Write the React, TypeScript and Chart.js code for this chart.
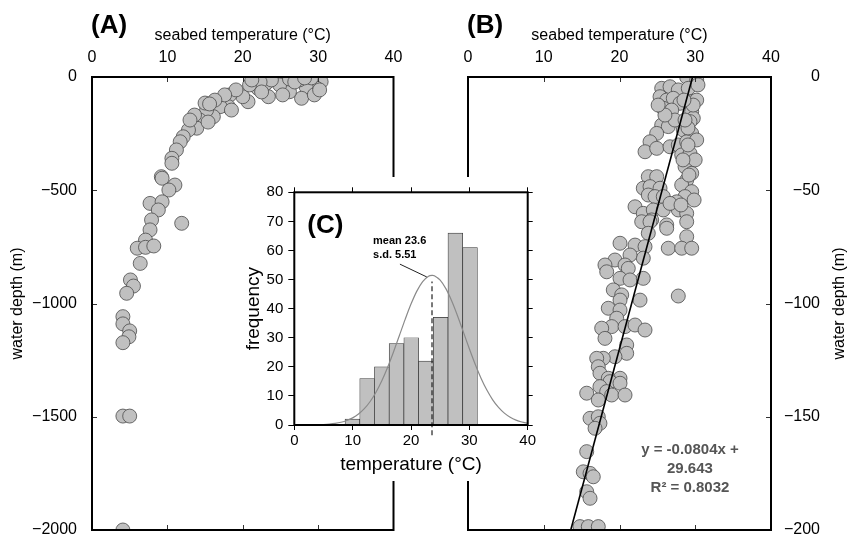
import React, { useEffect, useRef } from 'react';
import Chart from 'chart.js/auto';

// ---------- data ----------
// Panel A: full depth range
const tempA = [30.4, 29.8, 28.4, 27.8, 26.2, 24.9, 23.4, 23.1, 22.0, 20.7, 20.0, 18.3, 18.1, 17.0, 16.1, 15.2, 14.3, 13.9, 12.8, 12.1, 11.7, 11.2, 10.6, 9.2,
  29.1, 27.5, 26.2, 23.8, 22.3, 20.9, 19.1, 17.6, 16.3, 15.0, 13.6, 13.0,
  29.5, 30.2, 26.9, 28.2, 25.3, 22.5, 21.2, 15.6, 18.5, 15.4,
  10.6, 9.3, 11.0, 10.2, 7.7, 9.3, 8.8, 7.9, 7.7, 7.1, 6.0, 7.1, 8.2, 6.4, 5.1, 5.5, 4.6, 11.9, 4.1, 4.1, 5.0, 4.9, 4.1, 4.1, 5.0, 4.1];
const depthA = [-21, -50, -43, -94, -65, -35, -87, -28, -50, -109, -87, -79, -131, -131, -175, -146, -190, -226, -234, -264, -286, -322, -359, -440,
  -4, -13, -9, -13, -22, -35, -57, -79, -102, -115, -168, -190,
  -79, -57, -22, -4, -79, -66, -13, -119, -146, -199,
  -381, -447, -477, -499, -558, -551, -587, -631, -675, -720, -756, -752, -746, -823, -896, -923, -955, -646, -1058, -1090, -1121, -1147, -1173, -1497, -1497, -2000];

// Panel B: 0-200 m
const tempB = [29.53, 28.87, 30.19, 25.57, 26.67, 27.76, 29.08, 25.35, 26.23, 27.10, 27.99, 29.53, 30.19, 25.78, 26.89, 29.53, 29.74, 29.31, 25.57, 26.44, 28.42, 29.53, 24.91, 24.03, 23.37, 24.91, 26.67, 27.76, 28.87, 30.19, 28.21, 29.31, 28.65, 29.53, 28.87, 28.21, 29.53, 28.65, 27.55, 27.76, 28.87, 23.80, 24.91, 23.14, 24.03, 25.35, 23.80, 24.69, 25.78, 22.05, 23.14, 24.46, 25.78, 22.93, 24.25, 26.23, 26.67,
  24.03, 26.23, 28.87, 23.80, 28.87, 26.44, 28.21, 29.53, 20.07, 22.05, 23.37, 23.14, 21.39, 19.40, 18.08, 18.31, 20.73, 21.16, 20.07, 21.39, 23.14, 19.18, 20.29, 22.71, 27.76, 18.52, 20.07, 20.07, 19.63, 18.97, 17.65, 18.08, 20.73, 22.05, 23.37, 20.95, 20.95, 19.40, 17.86, 16.99, 17.20, 17.42, 20.07, 18.52,
  18.74, 20.07, 15.67, 17.42, 18.31, 17.20, 18.97, 20.73, 16.11, 17.20, 17.42, 16.77, 15.67, 15.22, 16.11, 16.54, 15.67, 16.11, 14.78, 15.88, 17.20,
  29.72, 29.04, 29.99, 29.17, 29.85, 28.38, 27.32, 28.51, 29.04, 28.12, 28.65, 30.36, 26.0, 25.1];
const depthB = [-0.6, -0.1, -1.3, -5.0, -4.3, -5.7, -5.0, -8.7, -10.2, -9.4, -11.6, -10.9, -10.2, -13.8, -14.6, -15.3, -18.2, -19.7, -21.2, -21.9, -23.4, -24.9, -24.9, -28.6, -33.0, -31.5, -30.8, -30.0, -28.6, -27.8, -34.4, -33.7, -39.6, -42.5, -45.5, -47.7, -50.6, -52.8, -55.1, -58.7, -60.2, -44.0, -44.0, -49.1, -48.4, -49.1, -52.1, -52.8, -52.8, -57.3, -60.2, -58.7, -58.7, -63.9, -63.1, -65.3, -55.8,
  -63.9, -66.8, -63.9, -69.0, -70.5, -75.6, -75.6, -75.6, -73.4, -74.2, -74.9, -80.0, -78.6, -80.8, -83.0, -86.0, -83.0, -84.5, -88.9, -89.6, -88.9, -94.0, -96.2, -98.5, -96.7, -102.1, -98.5, -102.9, -106.5, -110.2, -110.9, -115.4, -110.2, -109.5, -111.7, -118.3, -122.0, -123.5, -124.2, -124.2, -127.9, -130.8, -133.0, -133.0,
  -134.5, -135.2, -139.6, -136.7, -138.9, -142.6, -140.4, -140.4, -150.7, -150.0, -152.9, -155.1, -165.4, -174.3, -175.0, -176.5, -183.1, -186.0, -198.5, -198.5, -198.5,
  -12.4, -22.5, -36.6, -43.3, -54.3, -36.6, -19.0, -10.2, -30.0, -56.5, -19.0, -3.5, -16.8, -12.4];

// regression (B): temp = intercept + slope * depth_m (depth positive downward)
const REG_SLOPE = -0.0804;
const REG_INTERCEPT = 29.643;
const REG_DEPTHS = [0, -200];

// Panel C histogram
const binCenters = [9.96, 12.48, 15.0, 17.52, 20.04, 22.56, 25.08, 27.6, 30.12];
const binCounts = [2, 16, 20, 28, 30, 22, 37, 66, 61];
const BIN_WIDTH = 2.52;
const HIST_MEAN = 23.6;
const HIST_SD = 5.51;
const curveX = [0, 1, 2, 3, 4, 5, 6, 7, 8, 9, 10, 11, 12, 13, 14, 15, 16, 17, 18, 19, 20, 21, 22, 23, 23.6, 24, 25, 26, 27, 28, 29, 30, 31, 32, 33, 34, 35, 36, 37, 38, 39, 40];

const FONT = '"Liberation Sans", Arial, Helvetica, sans-serif';
const POINT_FILL = '#c0c0c0';
const POINT_EDGE = '#4a4a4a';

Chart.defaults.font.family = FONT;
Chart.defaults.color = '#000';

const fmt = (v: number) => (v < 0 ? '\u2212' + Math.abs(v) : String(v));

type Inward = { axis: string; side: 'top' | 'bottom' | 'left' | 'right' };

function framePlugin(id: string, inward: Inward[], lw: number, tickLen = 5) {
  return {
    id,
    afterDraw(chart: any) {
      const { ctx, chartArea: a } = chart;
      ctx.save();
      ctx.lineWidth = 1;
      ctx.strokeStyle = '#333';
      for (const spec of inward) {
        const s = chart.scales[spec.axis];
        for (const t of s.ticks) {
          if (t.value <= s.min || t.value >= s.max) continue;
          const p = Math.round(s.getPixelForValue(t.value)) + 0.5;
          ctx.beginPath();
          if (spec.side === 'top') { ctx.moveTo(p, a.top); ctx.lineTo(p, a.top + tickLen); }
          if (spec.side === 'bottom') { ctx.moveTo(p, a.bottom); ctx.lineTo(p, a.bottom - tickLen); }
          if (spec.side === 'left') { ctx.moveTo(a.left, p); ctx.lineTo(a.left + tickLen, p); }
          if (spec.side === 'right') { ctx.moveTo(a.right, p); ctx.lineTo(a.right - tickLen, p); }
          ctx.stroke();
        }
      }
      ctx.strokeStyle = '#000';
      ctx.lineWidth = lw;
      ctx.strokeRect(a.left, a.top, a.right - a.left, a.bottom - a.top);
      ctx.restore();
    },
  };
}

function textPlugin(id: string, draw: (chart: any, ctx: CanvasRenderingContext2D) => void) {
  return {
    id,
    afterDraw(chart: any) {
      const ctx = chart.ctx;
      ctx.save();
      draw(chart, ctx);
      ctx.restore();
    },
  };
}

const fixW = (w: number) => (s: any) => {
  s.width = w;
  s.paddingTop = 0;
  s.paddingBottom = 0;
};
const fixH = (h: number) => (s: any) => {
  s.height = h;
  s.paddingLeft = 0;
  s.paddingRight = 0;
};

const noLegend = { legend: { display: false }, tooltip: { enabled: false } };

export default function App() {
  const refA = useRef<HTMLCanvasElement>(null);
  const refB = useRef<HTMLCanvasElement>(null);
  const refC = useRef<HTMLCanvasElement>(null);

  useEffect(() => {
    const pointStyle = {
      pointRadius: 7,
      pointBackgroundColor: POINT_FILL,
      pointBorderColor: POINT_EDGE,
      pointBorderWidth: 0.8,
      clip: 0,
    };

    const topX = (title: string) => ({
      type: 'linear' as const,
      position: 'top' as const,
      min: 0,
      max: 40,
      ticks: { stepSize: 10, padding: 10, font: { size: 16 } },
      grid: { display: false, drawTicks: false },
      border: { display: false },
      title: { display: true, text: title, font: { size: 16 }, padding: { top: 26, bottom: 0 } },
      afterFit: fixH(77),
    });

    // ---------- Chart A ----------
    const chartA = new Chart(refA.current!, {
      type: 'scatter',
      data: {
        datasets: [{ data: tempA.map((t, i) => ({ x: t, y: depthA[i] })), ...pointStyle } as any],
      },
      options: {
        animation: false,
        responsive: false,
        layout: { padding: { left: 0, top: 0, right: 31.5, bottom: 8 } },
        plugins: noLegend,
        scales: {
          x: topX('seabed temperature (°C)'),
          y: {
            type: 'linear',
            position: 'left',
            min: -2000,
            max: 0,
            ticks: { stepSize: 500, padding: 15, font: { size: 16 }, callback: (v: any) => fmt(Number(v)) },
            grid: { display: false, drawTicks: false },
            border: { display: false },
            title: { display: true, text: 'water depth (m)', font: { size: 16 }, padding: { top: 8, bottom: 0 } },
            afterFit: fixW(92),
          },
        } as any,
      },
      plugins: [
        framePlugin('frameA', [
          { axis: 'x', side: 'top' },
          { axis: 'x', side: 'bottom' },
          { axis: 'y', side: 'left' },
        ], 2),
        textPlugin('textA', (chart, ctx) => {
          ctx.font = `bold 26px ${FONT}`;
          ctx.fillStyle = '#000';
          ctx.textBaseline = 'middle';
          ctx.textAlign = 'left';
          ctx.fillText('(A)', chart.chartArea.left - 1, 26);
        }),
      ],
    });

    // ---------- Chart B ----------
    const chartB = new Chart(refB.current!, {
      type: 'scatter',
      data: {
        datasets: [
          {
            type: 'line',
            data: REG_DEPTHS.map((d) => ({ x: REG_INTERCEPT - REG_SLOPE * d, y: d })),
            borderColor: '#000',
            borderWidth: 1.6,
            pointRadius: 0,
            showLine: true,
            clip: 0,
            order: 0,
          } as any,
          { data: tempB.map((t, i) => ({ x: t, y: depthB[i] })), ...pointStyle, order: 1 } as any,
        ],
      },
      options: {
        animation: false,
        responsive: false,
        layout: { padding: { left: 43, top: 0, right: 30, bottom: 8 } },
        plugins: noLegend,
        scales: {
          x: topX('seabed temperature (°C)'),
          y: {
            type: 'linear',
            position: 'right',
            min: -200,
            max: 0,
            ticks: { stepSize: 50, padding: 13, crossAlign: 'far', font: { size: 16 }, callback: (v: any) => fmt(Number(v)) },
            grid: { display: false, drawTicks: false },
            border: { display: false },
            afterFit: fixW(49),
          },
        } as any,
      },
      plugins: [
        framePlugin('frameB', [
          { axis: 'x', side: 'top' },
          { axis: 'x', side: 'bottom' },
          { axis: 'y', side: 'right' },
        ], 2),
        textPlugin('textB', (chart, ctx) => {
          const a = chart.chartArea;
          ctx.fillStyle = '#000';
          ctx.font = `bold 26px ${FONT}`;
          ctx.textBaseline = 'middle';
          ctx.textAlign = 'left';
          ctx.fillText('(B)', a.left - 1, 26);
          // right axis title
          ctx.font = `16px ${FONT}`;
          ctx.textAlign = 'center';
          ctx.save();
          ctx.translate(415, (a.top + a.bottom) / 2);
          ctx.rotate(-Math.PI / 2);
          ctx.fillText('water depth (m)', 0, 0);
          ctx.restore();
          // regression text
          const xs = chart.scales.x;
          const ys = chart.scales.y;
          ctx.font = `bold 15px ${FONT}`;
          ctx.fillStyle = '#555';
          const cx = xs.getPixelForValue(29.3);
          ctx.fillText('y = -0.0804x +', cx, ys.getPixelForValue(-164.7));
          ctx.fillText('29.643', cx, ys.getPixelForValue(-173.1));
          ctx.fillText('R\u00B2 = 0.8032', cx, ys.getPixelForValue(-181.5));
        }),
      ],
    });

    // ---------- Chart C ----------
    const total = binCounts.reduce((s, v) => s + v, 0);
    const normal = curveX.map((x) => ({
      x,
      y: (total * BIN_WIDTH) / (HIST_SD * Math.sqrt(2 * Math.PI)) * Math.exp(-((x - HIST_MEAN) ** 2) / (2 * HIST_SD * HIST_SD)),
    }));

    const chartC = new Chart(refC.current!, {
      type: 'bar',
      data: {
        datasets: [
          {
            type: 'line',
            data: [{ x: HIST_MEAN, y: -3.5 }, { x: HIST_MEAN, y: 49.3 }],
            borderColor: '#222',
            borderWidth: 1.2,
            borderDash: [5, 3],
            pointRadius: 0,
            clip: false,
            order: 0,
            xAxisID: 'x',
            yAxisID: 'y',
          } as any,
          {
            type: 'line',
            data: normal,
            borderColor: '#8a8a8a',
            borderWidth: 1.2,
            pointRadius: 0,
            tension: 0.3,
            clip: 0,
            order: 1,
            xAxisID: 'x',
            yAxisID: 'y',
          } as any,
          {
            type: 'bar',
            data: binCenters.map((c, i) => ({ x: c, y: binCounts[i] })),
            backgroundColor: '#c0c0c0',
            borderColor: '#333',
            borderWidth: 0.7,
            borderSkipped: false,
            barPercentage: 1,
            categoryPercentage: 1,
            order: 2,
            xAxisID: 'x',
            yAxisID: 'y',
          } as any,
        ],
      },
      options: {
        animation: false,
        responsive: false,
        layout: { padding: 0 },
        plugins: noLegend,
        scales: {
          x: {
            type: 'linear',
            position: 'bottom',
            min: 0,
            max: 40,
            offset: false,
            ticks: { stepSize: 10, padding: 2, font: { size: 15 } },
            grid: { offset: false, drawOnChartArea: false, tickLength: 5, color: '#000' },
            border: { display: false },
            title: { display: true, text: 'temperature (°C)', font: { size: 19 }, padding: { top: 0, bottom: 5 } },
            afterFit: fixH(56),
          },
          x2: {
            type: 'linear',
            position: 'top',
            min: 0,
            max: 40,
            offset: false,
            ticks: { stepSize: 10, display: false },
            grid: { offset: false, drawOnChartArea: false, tickLength: 5, color: '#000' },
            border: { display: false },
            afterFit: fixH(15.3),
          },
          y: {
            type: 'linear',
            position: 'left',
            min: 0,
            max: 80,
            ticks: { stepSize: 10, padding: 5, font: { size: 15 } },
            grid: { drawOnChartArea: false, tickLength: 6, color: '#000' },
            border: { display: false },
            title: { display: true, text: 'frequency', font: { size: 19 }, padding: { top: 4, bottom: 0 } },
            afterFit: fixW(56.3),
          },
          y2: {
            type: 'linear',
            position: 'right',
            min: 0,
            max: 80,
            ticks: { stepSize: 10, display: false },
            grid: { drawOnChartArea: false, tickLength: 5, color: '#000' },
            border: { display: false },
            afterFit: fixW(12.3),
          },
        } as any,
      },
      plugins: [
        framePlugin('frameC', [], 2),
        textPlugin('textC', (chart, ctx) => {
          const a = chart.chartArea;
          const xs = chart.scales.x;
          const ys = chart.scales.y;
          ctx.fillStyle = '#000';
          ctx.textBaseline = 'middle';
          ctx.textAlign = 'left';
          ctx.font = `bold 26px ${FONT}`;
          ctx.fillText('(C)', a.left + 13, a.top + 34);
          ctx.font = `bold 11px ${FONT}`;
          ctx.fillText('mean 23.6', xs.getPixelForValue(13.5), ys.getPixelForValue(63.3));
          ctx.fillText('s.d. 5.51', xs.getPixelForValue(13.5), ys.getPixelForValue(58.4));
          ctx.strokeStyle = '#222';
          ctx.lineWidth = 1;
          ctx.beginPath();
          ctx.moveTo(xs.getPixelForValue(18.1), ys.getPixelForValue(55.3));
          ctx.lineTo(xs.getPixelForValue(22.7), ys.getPixelForValue(50.9));
          ctx.stroke();
        }),
      ],
    });

    return () => {
      chartA.destroy();
      chartB.destroy();
      chartC.destroy();
    };
  }, []);

  return (
    <div style={{ position: 'fixed', left: 0, top: 0, width: 850, height: 538, background: '#fff' }}>
      <canvas ref={refA} width={425} height={538} style={{ position: 'absolute', left: 0, top: 0 }} />
      <canvas ref={refB} width={425} height={538} style={{ position: 'absolute', left: 425, top: 0 }} />
      <canvas ref={refC} width={302} height={304} style={{ position: 'absolute', left: 238, top: 177, background: '#fff' }} />
    </div>
  );
}
